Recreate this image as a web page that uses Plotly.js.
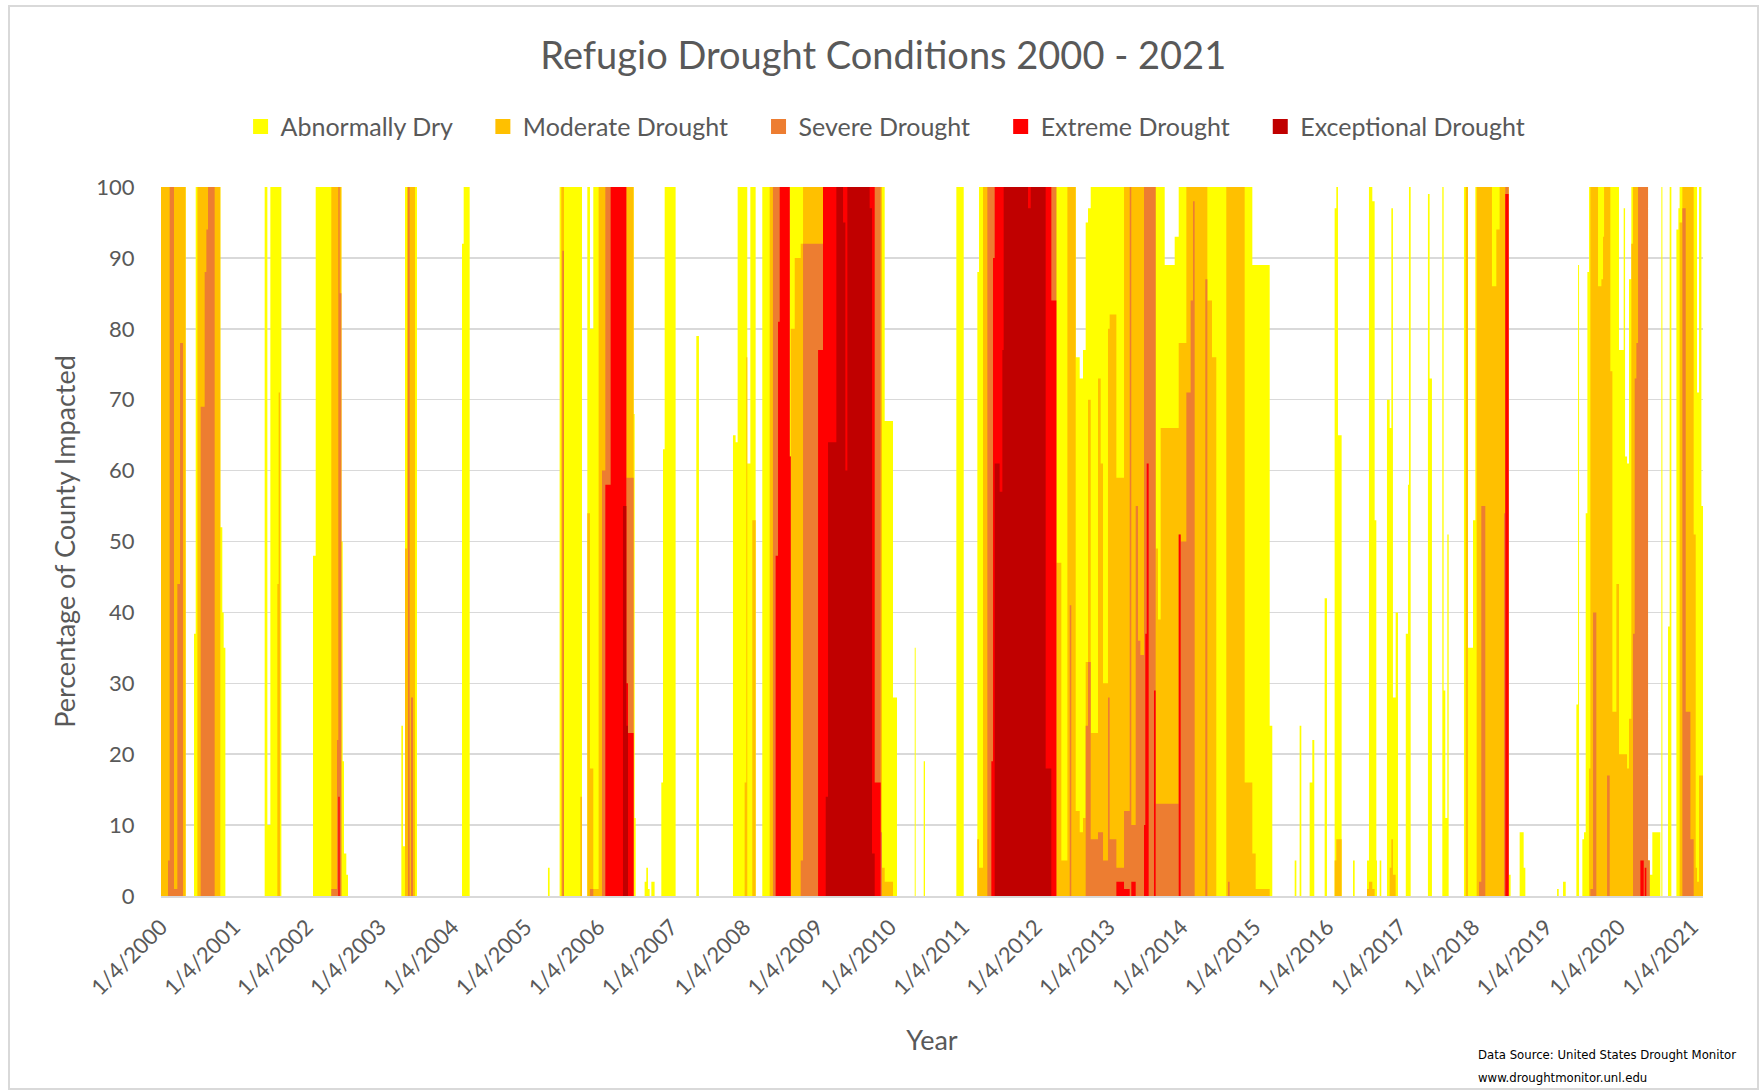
<!DOCTYPE html>
<html>
<head>
<meta charset="utf-8">
<script src="https://cdn.plot.ly/plotly-3.0.1.min.js"></script>
<style>
  html, body { margin: 0; padding: 0; background: #ffffff; }
  #wrap { position: relative; width: 1763px; height: 1091px; }
  #chart { position: absolute; left: 0; top: 0; width: 1763px; height: 1091px; }
  #frame { position: absolute; left: 8px; top: 5px; width: 1747px; height: 1081px;
           border: 2px solid #D9D9D9; pointer-events: none; }
</style>
</head>
<body>
<div id="wrap"><div id="chart"></div><div id="frame"></div></div>
<script>
// Start of each constant period, in years counted from 1/4/2000 (tick "1/4/YYYY" = YYYY)
const periodStart = [
  2000.000,2000.096,2000.119,2000.178,2000.224,2000.261,2000.302,2000.338,2000.453,2000.476,
  2000.499,2000.544,2000.599,2000.622,2000.645,2000.736,2000.814,2000.841,2000.860,2000.883,
  2001.422,2001.459,2001.500,2001.596,2001.614,2001.632,2001.651,2002.085,2002.122,2002.336,
  2002.414,2002.432,2002.451,2002.474,2002.492,2002.510,2002.542,2002.565,2003.297,2003.319,
  2003.347,2003.374,2003.388,2003.411,2003.429,2003.457,2003.484,2003.511,2004.129,2004.152,
  2004.234,2005.308,2005.331,2005.468,2005.491,2005.505,2005.528,2005.752,2005.775,2005.848,
  2005.884,2005.930,2006.003,2006.049,2006.095,2006.168,2006.337,2006.383,2006.406,2006.483,
  2006.497,2006.511,2006.634,2006.657,2006.680,2006.703,2006.726,2006.771,2006.863,2006.886,
  2006.909,2007.059,2007.343,2007.379,2007.846,2007.882,2007.910,2008.006,2008.029,2008.042,
  2008.084,2008.111,2008.157,2008.248,2008.349,2008.394,2008.431,2008.464,2008.487,2008.624,
  2008.638,2008.693,2008.775,2008.807,2009.013,2009.081,2009.118,2009.150,2009.264,2009.356,
  2009.388,2009.415,2009.721,2009.753,2009.790,2009.872,2009.890,2009.927,2010.041,2010.096,
  2010.339,2010.352,2010.462,2010.480,2010.910,2011.011,2011.198,2011.221,2011.276,2011.335,
  2011.390,2011.413,2011.436,2011.504,2011.541,2011.559,2011.893,2011.930,2012.135,2012.213,
  2012.282,2012.350,2012.433,2012.465,2012.487,2012.547,2012.602,2012.647,2012.684,2012.716,
  2012.753,2012.853,2012.890,2012.922,2012.990,2013.013,2013.105,2013.210,2013.288,2013.310,
  2013.370,2013.402,2013.434,2013.484,2013.502,2013.521,2013.548,2013.621,2013.644,2013.676,
  2013.713,2013.768,2013.905,2013.960,2013.987,2014.065,2014.124,2014.156,2014.179,2014.325,
  2014.353,2014.417,2014.476,2014.613,2014.636,2014.659,2014.865,2014.970,2015.016,2015.208,
  2015.244,2015.551,2015.574,2015.619,2015.642,2015.756,2015.793,2015.820,2015.962,2015.994,
  2016.099,2016.122,2016.145,2016.195,2016.351,2016.374,2016.543,2016.570,2016.616,2016.648,
  2016.671,2016.680,2016.717,2016.739,2016.817,2016.854,2016.877,2016.899,2016.936,2016.968,
  2017.075,2017.105,2017.119,2017.142,2017.379,2017.402,2017.434,2017.576,2017.594,2017.617,
  2017.645,2017.663,2017.873,2017.896,2017.928,2017.997,2018.029,2018.047,2018.079,2018.111,
  2018.166,2018.257,2018.317,2018.362,2018.422,2018.440,2018.486,2018.513,2018.637,2018.692,
  2018.715,2019.150,2019.173,2019.232,2019.269,2019.415,2019.438,2019.452,2019.497,2019.520,
  2019.543,2019.566,2019.589,2019.607,2019.644,2019.689,2019.712,2019.758,2019.781,2019.795,
  2019.836,2019.872,2019.881,2019.909,2019.964,2020.000,2020.064,2020.083,2020.110,2020.137,
  2020.169,2020.192,2020.215,2020.238,2020.261,2020.293,2020.339,2020.352,2020.375,2020.398,
  2020.421,2020.457,2020.567,2020.581,2020.595,2020.672,2020.695,2020.718,2020.787,2020.814,
  2020.831,2020.869,2020.915,2020.979,2021.024,2021.052,2021.070,2021.098,2021.130,2021.152
];

const abnormallyDry = [
  100,100,100,100,100,100,100,0,37,100,
  100,100,100,100,100,100,52,40,35,0,
  100,10,100,100,100,100,0,48,100,100,
  100,100,100,50,19,6,3,0,24,7,
  100,100,100,100,100,100,100,0,92,100,
  0,4,0,100,100,100,100,100,0,100,
  80,100,100,100,100,100,100,100,100,68,
  11,0,2,4,1,0,2,0,16,63,
  100,0,79,0,65,64,100,100,100,61,
  100,100,0,100,100,100,100,100,100,100,
  100,100,100,100,100,100,100,100,100,100,
  100,100,100,100,100,100,100,67,28,0,
  35,0,19,0,100,0,88,100,100,100,
  100,100,100,100,100,100,100,100,100,100,
  100,100,100,100,100,76,73,77,95,97,
  100,100,100,100,100,100,100,100,100,100,
  100,100,100,100,100,100,100,100,100,100,
  100,89,93,100,100,100,100,100,100,100,
  100,100,100,100,100,100,100,89,89,24,
  0,5,0,24,0,16,22,0,42,0,
  97,100,65,0,5,0,5,100,98,53,
  5,0,5,0,70,66,97,28,40,0,
  37,58,100,0,99,73,0,100,29,11,
  51,0,100,100,35,53,100,100,100,100,
  100,100,100,100,100,100,3,0,9,4,
  0,1,0,2,0,27,89,0,8,9,
  54,88,100,100,100,100,100,100,100,100,
  100,100,100,100,100,77,97,62,61,87,
  100,100,100,100,100,100,100,100,100,5,
  3,9,0,100,0,38,100,0,94,97,
  100,100,100,100,100,100,71,100,55,0
];

const moderateDrought = [
  100,100,100,100,100,100,100,0,0,0,
  100,100,100,100,100,100,0,0,0,0,
  0,0,0,44,71,0,0,0,0,100,
  100,100,100,0,0,0,0,0,0,0,
  49,100,100,100,100,100,0,0,0,0,
  0,0,0,0,100,100,0,14,0,54,
  18,1,100,100,100,100,100,100,100,0,
  0,0,0,0,0,0,0,0,0,0,
  0,0,0,0,0,0,0,16,76,0,
  0,53,0,0,100,100,100,100,100,62,
  80,90,92,100,100,100,100,100,100,100,
  100,100,100,100,100,100,4,2,0,0,
  0,0,0,0,0,0,8,4,100,100,
  100,100,100,100,100,100,100,100,100,100,
  47,5,100,100,100,12,9,11,33,70,
  23,73,61,30,80,82,59,100,100,100,
  100,100,100,100,100,100,100,100,49,39,
  66,66,66,78,78,100,100,100,100,100,
  84,76,0,100,100,100,16,6,1,0,
  0,0,0,0,0,0,0,0,0,0,
  5,8,8,0,0,0,1,2,1,0,
  0,0,0,0,0,4,8,3,0,0,
  0,0,0,0,0,0,0,0,0,0,
  0,0,0,100,0,0,0,100,100,100,
  100,86,94,100,100,100,0,0,0,0,
  0,0,0,0,0,0,0,0,0,0,
  0,0,18,100,100,100,86,87,93,100,
  100,100,74,26,44,20,20,20,18,25,
  92,100,100,100,100,100,100,100,100,5,
  0,0,0,0,0,0,0,0,0,0,
  95,100,100,100,51,4,2,17,17,0
];

const severeDrought = [
  0,5,100,1,44,78,0,0,0,0,
  0,69,88,94,100,0,0,0,0,0,
  0,0,0,0,0,0,0,0,0,1,
  22,100,85,0,0,0,0,0,0,0,
  0,0,100,0,28,0,0,0,0,0,
  0,0,0,0,0,91,0,0,0,0,
  1,0,0,60,100,100,100,59,59,0,
  0,0,0,0,0,0,0,0,0,0,
  0,0,0,0,0,0,0,0,0,0,
  0,0,0,0,0,100,100,100,100,62,
  0,0,5,92,92,100,100,100,100,100,
  100,100,100,100,100,9,0,0,0,0,
  0,0,0,0,0,0,0,0,0,100,
  100,100,100,100,100,100,100,100,100,100,
  0,0,0,41,0,0,0,0,24,33,
  8,9,9,5,28,8,4,12,100,10,
  55,36,34,100,100,100,100,100,13,13,
  13,13,13,51,50,71,84,98,0,87,
  0,0,0,0,2,0,0,0,0,0,
  0,0,0,0,0,0,0,0,0,0,
  0,0,0,0,0,0,0,0,0,0,
  0,0,0,0,0,0,0,0,0,0,
  0,0,0,0,0,0,0,0,0,0,
  0,0,0,0,0,0,0,0,2,55,
  0,0,0,0,54,100,0,0,0,0,
  0,0,0,0,0,0,0,0,0,0,
  0,0,0,1,40,0,0,0,0,0,
  17,0,0,0,0,0,0,0,0,0,
  0,37,73,78,100,100,100,100,100,5,
  0,0,0,0,0,0,0,0,0,0,
  0,97,26,8,0,0,0,0,0,0
];

const extremeDrought = [
  0,0,0,0,0,0,0,0,0,0,
  0,0,0,0,0,0,0,0,0,0,
  0,0,0,0,0,0,0,0,0,0,
  0,14,0,0,0,0,0,0,0,0,
  0,0,0,0,0,0,0,0,0,0,
  0,0,0,0,0,0,0,0,0,0,
  0,0,0,0,58,100,100,30,23,0,
  0,0,0,0,0,0,0,0,0,0,
  0,0,0,0,0,0,0,0,0,0,
  0,0,0,0,0,0,48,81,100,62,
  0,0,0,0,77,100,100,100,100,100,
  100,100,100,100,16,0,0,0,0,0,
  0,0,0,0,0,0,0,0,0,0,
  19,90,100,100,100,100,100,100,100,84,
  0,0,0,0,0,0,0,0,0,0,
  0,0,0,0,0,0,2,1,0,2,
  0,0,0,10,37,61,0,29,0,0,
  0,0,0,51,0,0,0,0,0,0,
  0,0,0,0,0,0,0,0,0,0,
  0,0,0,0,0,0,0,0,0,0,
  0,0,0,0,0,0,0,0,0,0,
  0,0,0,0,0,0,0,0,0,0,
  0,0,0,0,0,0,0,0,0,0,
  0,0,0,0,0,0,0,0,0,0,
  0,0,0,0,0,99,0,0,0,0,
  0,0,0,0,0,0,0,0,0,0,
  0,0,0,0,0,0,0,0,0,0,
  0,0,0,0,0,0,0,0,0,0,
  0,0,0,0,0,5,0,4,0,0,
  0,0,0,0,0,0,0,0,0,0,
  0,0,0,0,0,0,0,0,0,0
];

const exceptionalDrought = [
  0,0,0,0,0,0,0,0,0,0,
  0,0,0,0,0,0,0,0,0,0,
  0,0,0,0,0,0,0,0,0,0,
  0,0,0,0,0,0,0,0,0,0,
  0,0,0,0,0,0,0,0,0,0,
  0,0,0,0,0,0,0,0,0,0,
  0,0,0,0,0,0,55,24,0,0,
  0,0,0,0,0,0,0,0,0,0,
  0,0,0,0,0,0,0,0,0,0,
  0,0,0,0,0,0,0,0,0,0,
  0,0,0,0,0,0,14,64,100,95,
  60,100,97,6,0,0,0,0,0,0,
  0,0,0,0,0,0,0,0,0,0,
  0,0,61,57,77,100,97,100,18,0,
  0,0,0,0,0,0,0,0,0,0,
  0,0,0,0,0,0,0,0,0,0,
  0,0,0,0,0,0,0,0,0,0,
  0,0,0,0,0,0,0,0,0,0,
  0,0,0,0,0,0,0,0,0,0,
  0,0,0,0,0,0,0,0,0,0,
  0,0,0,0,0,0,0,0,0,0,
  0,0,0,0,0,0,0,0,0,0,
  0,0,0,0,0,0,0,0,0,0,
  0,0,0,0,0,0,0,0,0,0,
  0,0,0,0,0,0,0,0,0,0,
  0,0,0,0,0,0,0,0,0,0,
  0,0,0,0,0,0,0,0,0,0,
  0,0,0,0,0,0,0,0,0,0,
  0,0,0,0,0,0,0,0,0,0,
  0,0,0,0,0,0,0,0,0,0,
  0,0,0,0,0,0,0,0,0,0
];

const seriesNames = ["Abnormally Dry", "Moderate Drought", "Severe Drought", "Extreme Drought", "Exceptional Drought"];
const seriesColors = ["#FFFF00", "#FFC000", "#ED7D31", "#FF0000", "#C00000"];
const tickYears = [2000,2001,2002,2003,2004,2005,2006,2007,2008,2009,2010,2011,2012,2013,2014,2015,2016,2017,2018,2019,2020,2021];
const tickLabels = tickYears.map(y => "1/4/" + y);

const seriesValues = [abnormallyDry, moderateDrought, severeDrought, extremeDrought, exceptionalDrought];
const FONT = "Lato, 'Open Sans', sans-serif";
const NARROW = "'Liberation Sans Narrow', 'DejaVu Sans Condensed', sans-serif";
const GREY = "#595959";

const traces = [];
seriesValues.forEach((vals, i) => {
  traces.push({
    type: "scatter", mode: "lines", x: periodStart, y: vals,
    line: { shape: "hv", width: 0, color: seriesColors[i] },
    fill: "tozeroy", fillcolor: seriesColors[i],
    showlegend: false, hoverinfo: "skip"
  });
});
seriesNames.forEach((nm, i) => {
  traces.push({
    type: "scatter", mode: "markers", x: [null], y: [null],
    name: nm + "\u00a0\u00a0\u00a0\u00a0",
    marker: { symbol: "square", size: 15, color: seriesColors[i] },
    showlegend: true
  });
});

const layout = {
  width: 1763, height: 1091,
  margin: { l: 161, r: 60, t: 187, b: 195 },
  paper_bgcolor: "#ffffff", plot_bgcolor: "#ffffff",
  font: { family: FONT, color: GREY },
  title: {
    text: "Refugio Drought Conditions 2000 - 2021",
    font: { family: FONT, size: 38, color: GREY },
    x: 0.501, xanchor: "center", y: 0.949, yanchor: "middle"
  },
  showlegend: true,
  legend: {
    orientation: "h", x: 0.478, xanchor: "center", y: 1.085, yanchor: "middle",
    font: { family: FONT, size: 25, color: GREY },
    itemsizing: "trace", bgcolor: "rgba(0,0,0,0)"
  },
  xaxis: {
    type: "linear", range: [2000.0, 2021.152],
    tickmode: "array", tickvals: tickYears, ticktext: tickLabels,
    tickangle: -45, ticks: "outside", ticklen: 8, tickcolor: "rgba(0,0,0,0)",
    tickfont: { family: FONT, size: 22, color: GREY },
    showgrid: false, zeroline: false,
    showline: true, linecolor: "#D9D9D9", linewidth: 1.5,
    title: { text: "Year", font: { family: FONT, size: 27, color: GREY }, standoff: 31 }
  },
  yaxis: {
    range: [0, 100], tick0: 0, dtick: 10,
    ticks: "outside", ticklen: 21, tickcolor: "rgba(0,0,0,0)",
    tickfont: { family: FONT, size: 22, color: GREY },
    showgrid: true, gridcolor: "#D9D9D9", gridwidth: 1.5,
    zeroline: false, showline: false,
    title: { text: "Percentage of County Impacted", font: { family: FONT, size: 27, color: GREY }, standoff: 12 }
  },
  annotations: [
    { xref: "paper", yref: "paper", x: 0.8528, y: -0.2229, xanchor: "left", yanchor: "middle",
      text: "Data Source: United States Drought Monitor", showarrow: false,
      font: { family: NARROW, size: 13, color: "#000000" } },
    { xref: "paper", yref: "paper", x: 0.8528, y: -0.2553, xanchor: "left", yanchor: "middle",
      text: "www.droughtmonitor.unl.edu", showarrow: false,
      font: { family: NARROW, size: 13, color: "#000000" } }
  ]
};

Plotly.newPlot("chart", traces, layout, { displayModeBar: false, staticPlot: true });
</script>
</body>
</html>
